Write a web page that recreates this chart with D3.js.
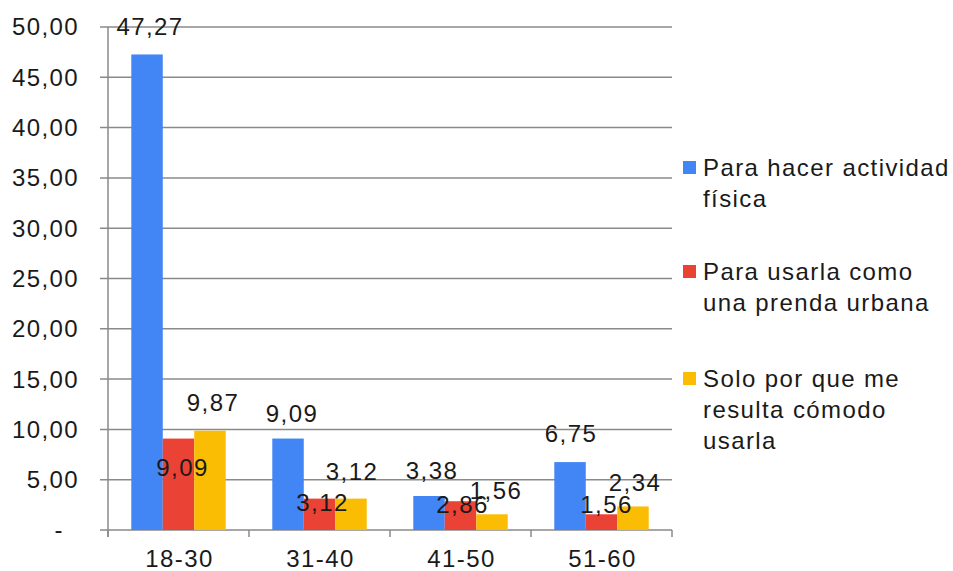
<!DOCTYPE html>
<html>
<head>
<meta charset="utf-8">
<script src="https://cdn.jsdelivr.net/npm/d3@7/dist/d3.min.js"></script>
<style>
  html, body { margin: 0; padding: 0; background: #fff; }
  svg text { font-family: "Liberation Sans", Arial, sans-serif; fill: #1a1a1a; letter-spacing: 1.4px; }
</style>
</head>
<body>
<svg id="chart" width="953" height="571"></svg>
<script>
// Age groups and answer series
const categories = ["18-30", "31-40", "41-50", "51-60"];
const seriesNames = [
  ["Para hacer actividad", "física"],
  ["Para usarla como", "una prenda urbana"],
  ["Solo por que me", "resulta cómodo", "usarla"]
];
const actividadFisica = [47.27, 9.09, 3.38, 6.75];
const prendaUrbana = [9.09, 3.12, 2.86, 1.56];
const resultaComodo = [9.87, 3.12, 1.56, 2.34];
const yTicks = [0, 5, 10, 15, 20, 25, 30, 35, 40, 45, 50];

const seriesValues = [actividadFisica, prendaUrbana, resultaComodo];
const colors = ["#4285f4", "#ea4335", "#fbbc04"];

// Hand-placed label offsets (px from bar centre / bar top), per series
const labelDx = [[3, 4, 3, 1], [4, 3, 2, 5], [3, 1, 4, 2]];
const labelDy = [[-28, -25, -25, -28], [29, 4, 3, -10], [-28, -27, -24, -24]];

const svg = d3.select("#chart");
const plotLeft = 108, plotRight = 672, plotTop = 27, plotBottom = 530;

const y = d3.scaleLinear().domain([0, 50]).range([plotBottom, plotTop]);
const x0 = d3.scaleBand().domain(categories).range([plotLeft, plotRight]).padding(0);
const x1 = d3.scaleBand().domain(d3.range(seriesValues.length))
  .range([0, x0.bandwidth()]).paddingInner(0).paddingOuter(0.74);

const fmt = v => v === 0 ? "-" : v.toFixed(2).replace(".", ",");
const gridColor = "#8a8a8a";

// Horizontal gridlines with small left ticks
svg.append("g")
  .selectAll("line")
  .data(yTicks)
  .join("line")
  .attr("x1", plotLeft - 8)
  .attr("x2", plotRight)
  .attr("y1", d => y(d))
  .attr("y2", d => y(d))
  .attr("stroke", gridColor)
  .attr("stroke-width", 1.5);

// Y tick labels (the zero dash sits further left, accounting style)
svg.append("g")
  .selectAll("text")
  .data(yTicks)
  .join("text")
  .attr("x", d => d === 0 ? 64 : 79)
  .attr("y", d => y(d))
  .attr("dy", "0.35em")
  .attr("text-anchor", "end")
  .attr("font-size", 24)
  .text(fmt);

// Vertical axis line
svg.append("line")
  .attr("x1", plotLeft).attr("x2", plotLeft)
  .attr("y1", plotTop).attr("y2", plotBottom + 7)
  .attr("stroke", gridColor).attr("stroke-width", 1.5);

// Category boundary ticks below the baseline
const boundaries = categories.map(c => x0(c)).concat([plotRight]);
svg.append("g")
  .selectAll("line")
  .data(boundaries)
  .join("line")
  .attr("x1", d => d).attr("x2", d => d)
  .attr("y1", plotBottom).attr("y2", plotBottom + 7)
  .attr("stroke", gridColor).attr("stroke-width", 1.5);

// Category labels
svg.append("g")
  .selectAll("text")
  .data(categories)
  .join("text")
  .attr("x", d => x0(d) + x0.bandwidth() / 2 + 1)
  .attr("y", 567)
  .attr("text-anchor", "middle")
  .attr("font-size", 24)
  .text(d => d);

// Bars
const barLayer = svg.append("g");
const labelLayer = svg.append("g");

seriesValues.forEach((vals, si) => {
  barLayer.append("g")
    .attr("fill", colors[si])
    .selectAll("rect")
    .data(vals)
    .join("rect")
    .attr("x", (v, ci) => x0(categories[ci]) + x1(si))
    .attr("y", v => y(v))
    .attr("width", x1.bandwidth())
    .attr("height", v => y(0) - y(v));
});

// Value labels, drawn above every bar
seriesValues.forEach((vals, si) => {
  labelLayer.append("g")
    .selectAll("text")
    .data(vals)
    .join("text")
    .attr("x", (v, ci) => x0(categories[ci]) + x1(si) + x1.bandwidth() / 2 + labelDx[si][ci])
    .attr("y", (v, ci) => y(v) + labelDy[si][ci])
    .attr("dy", "0.35em")
    .attr("text-anchor", "middle")
    .attr("font-size", 24)
    .text(v => fmt(v));
});

// Legend
const legendBaselines = [176, 280, 387];
const legend = svg.append("g")
  .selectAll("g")
  .data(seriesNames)
  .join("g");

legend.append("rect")
  .attr("x", 683)
  .attr("y", (d, i) => legendBaselines[i] - 15)
  .attr("width", 13)
  .attr("height", 13)
  .attr("fill", (d, i) => colors[i]);

legend.append("text")
  .attr("x", 703)
  .attr("y", (d, i) => legendBaselines[i])
  .attr("font-size", 24)
  .selectAll("tspan")
  .data(d => d)
  .join("tspan")
  .attr("x", 703)
  .attr("dy", (d, j) => j === 0 ? 0 : 31)
  .text(d => d);
</script>
</body>
</html>
